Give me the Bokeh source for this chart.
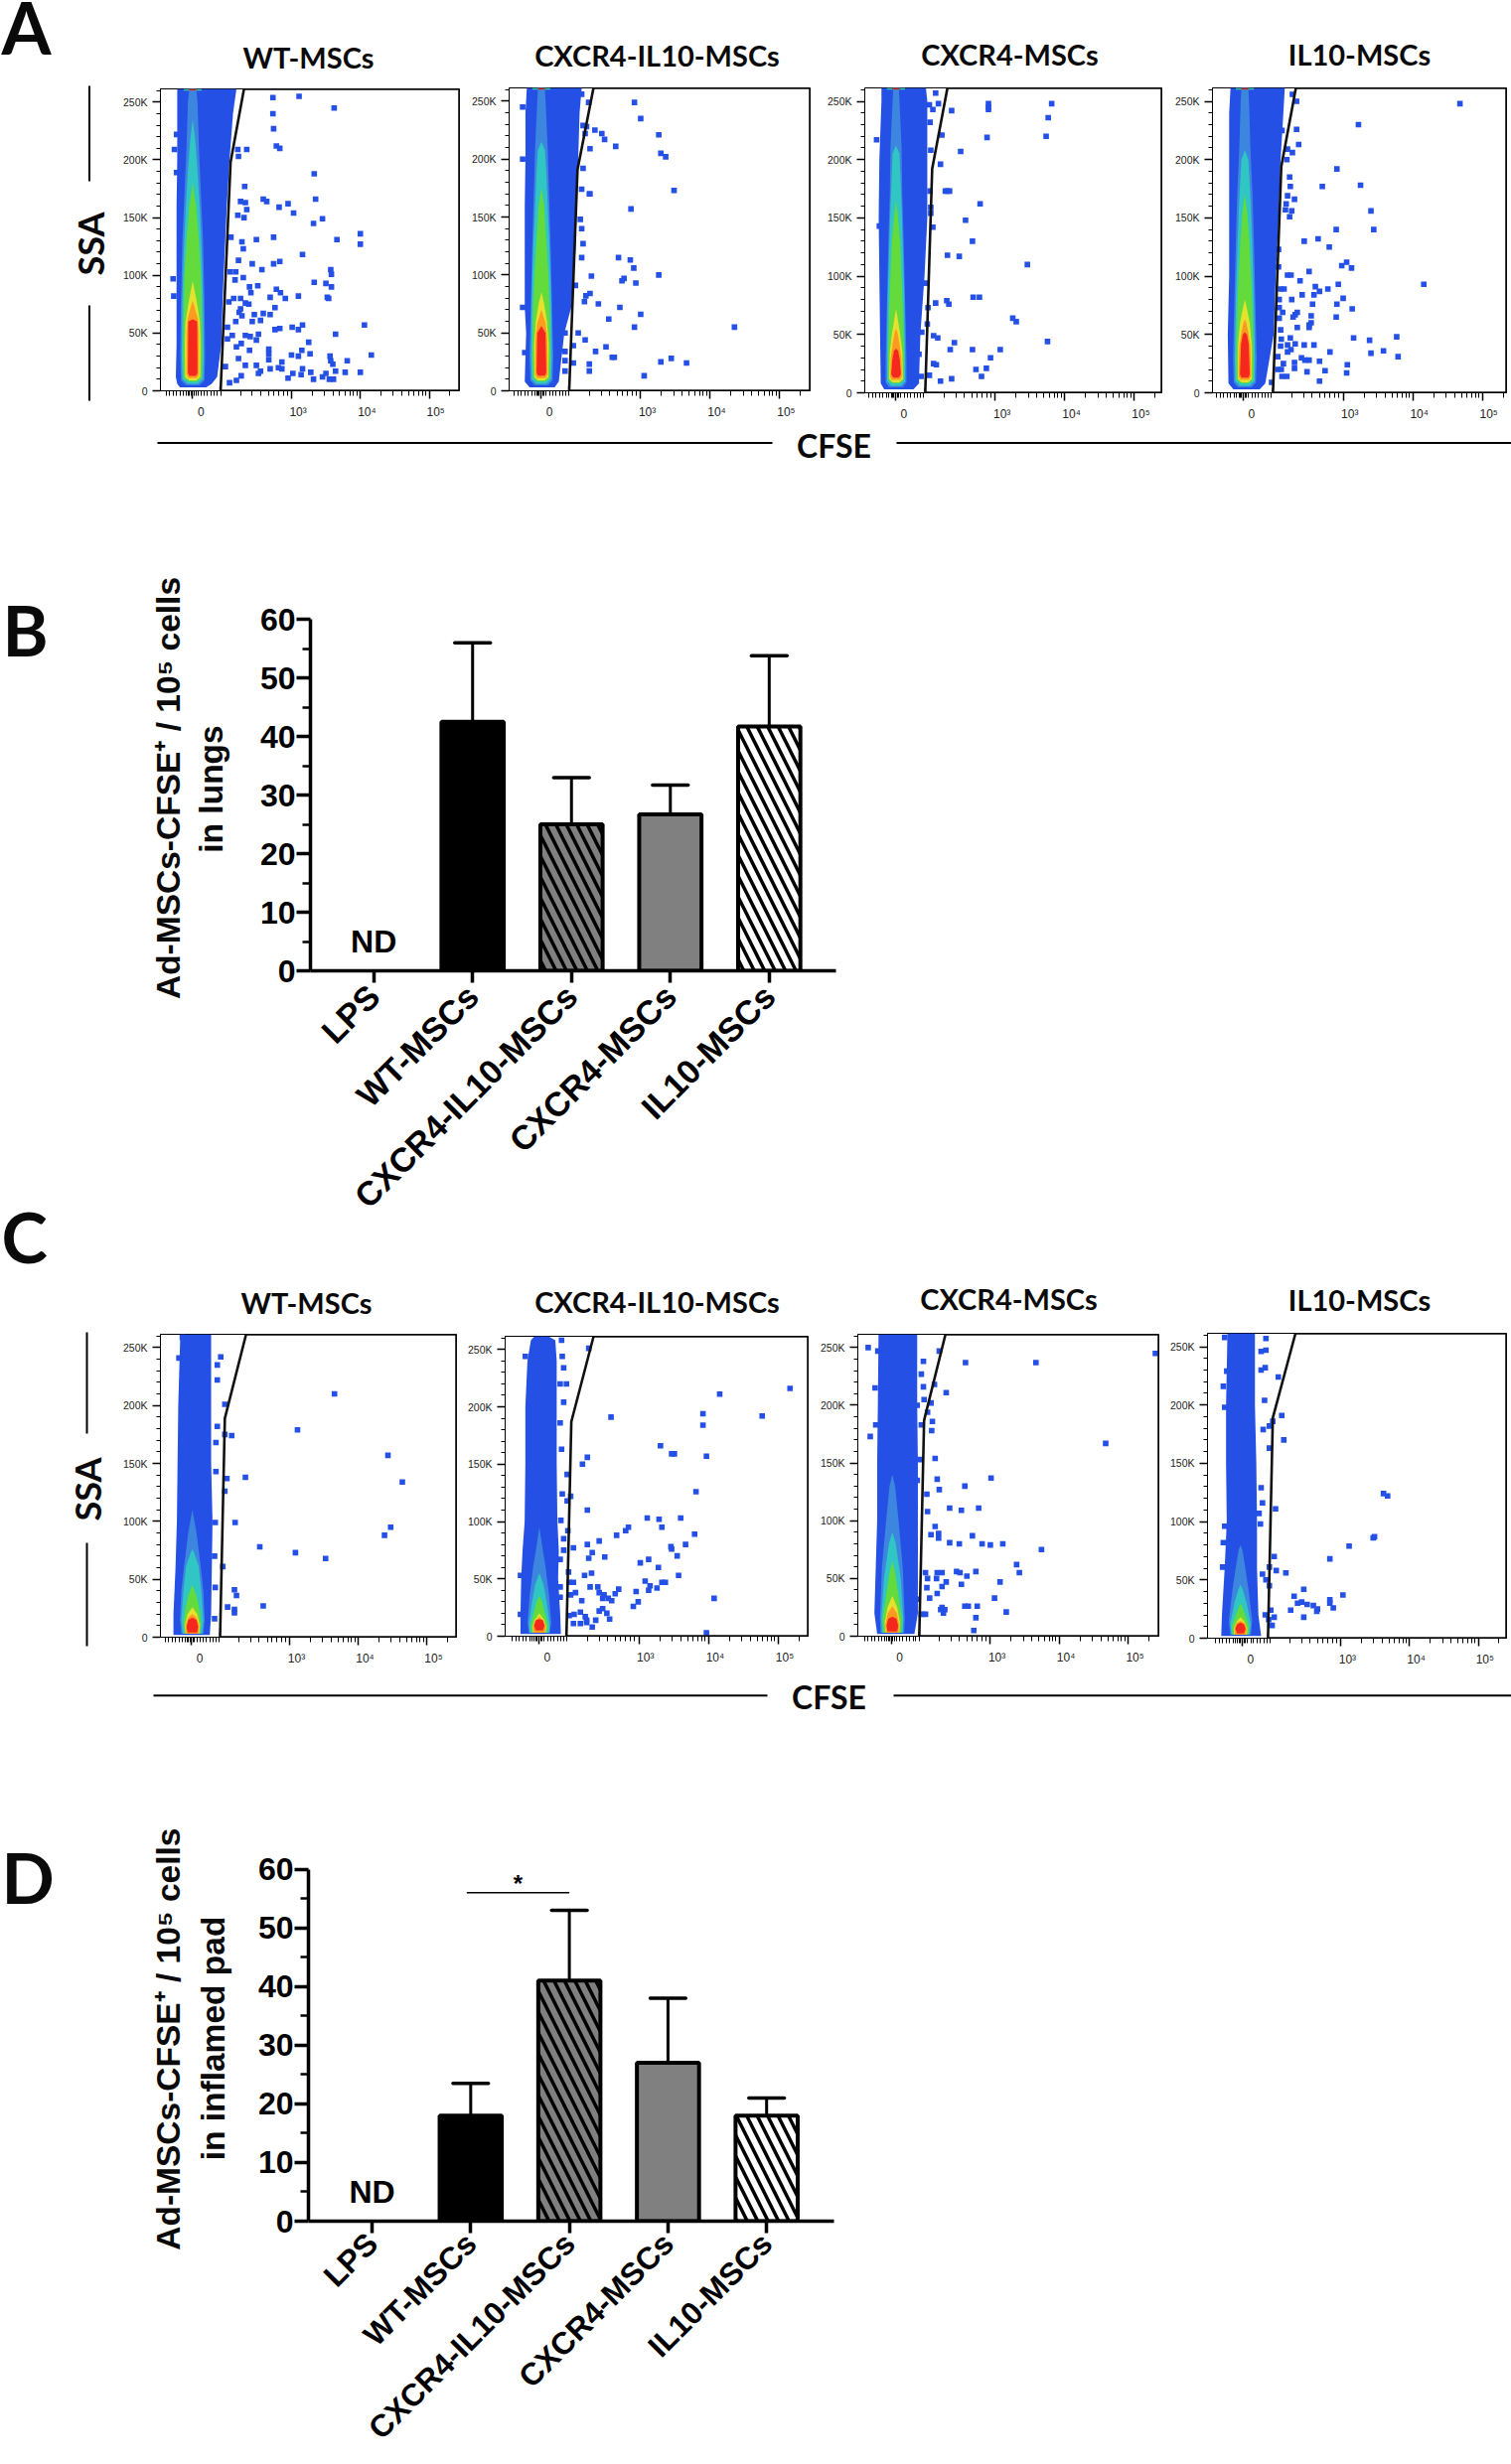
from math import pi
from bokeh.plotting import figure
from bokeh.models import Range1d, FixedTicker, Column, Row
from bokeh.core.properties import value
from bokeh.embed import file_html
from bokeh.resources import INLINE

# ---------------- flow panels: events outside the dense core (CFSE display decade, SSA in K)
A1_EVENTS = [(2.73,254),(3.11,255),(3.62,245),(2.73,240),(2.74,227),(2.78,212),(2.83,210),(3.33,188),(2.35,209),(2.23,203),(2.22,209),(2.32,177),(2.59,166),(2.64,164),(2.95,162),(2.82,159),(3.03,154),(3.35,166),(3.32,145),(3.45,149),(2.26,164),(2.33,163),(2.35,157),(2.22,152),(2.31,150),(2.12,133),(2.28,129),(2.49,131),(2.74,133),(3.66,131),(4.0,136),(4.0,127),(2.3,123),(3.16,118),(2.23,113),(2.43,110),(2.74,110),(2.83,112),(2.57,105),(3.57,105),(3.58,101),(2.11,103),(2.19,103),(2.3,98),(2.18,96),(2.51,91),(2.39,90),(3.33,94),(3.5,93),(3.58,90),(2.78,88),(2.84,85),(2.41,85),(2.69,81),(2.91,80),(3.1,82),(3.52,81),(3.54,80),(2.16,80),(2.26,80),(2.09,77),(2.33,76),(2.38,75),(2.76,72),(2.26,71),(2.24,68),(2.46,66),(2.59,67),(2.69,66),(2.28,65),(2.43,60),(2.55,61),(2.19,60),(2.07,55),(3.16,57),(4.06,57),(2.76,53),(2.83,54),(3.01,55),(3.1,53),(3.64,49),(2.33,48),(2.4,47),(2.52,49),(2.49,44),(2.14,48),(2.07,45),(2.27,41),(2.2,38),(3.25,42),(2.39,35),(2.67,36),(2.67,32),(3.15,35),(3.27,32),(3.0,31),(3.1,30),(4.16,31),(3.56,30),(2.67,27),(3.57,26),(3.81,26),(3.6,23),(2.86,25),(2.23,28),(2.33,22),(2.49,22),(2.04,21),(2.69,19),(2.81,20),(2.86,19),(3.16,19),(3.64,17),(3.78,16),(4.0,16),(2.52,15),(2.55,17),(3.28,16),(3.02,15),(3.14,14),(2.95,11),(3.5,15),(3.45,12),(2.27,13),(2.2,9),(2.1,7),(3.32,10),(3.55,10),(3.61,10),(1.3,209),(1.33,189),(1.28,97),(1.29,82),(1.33,222)]
A2_EVENTS = [(2.91,249),(3.0,235),(2.34,225),(2.44,222),(2.48,217),(3.26,221),(2.64,211),(2.27,209),(3.29,205),(3.36,202),(3.48,173),(2.86,157),(2.26,170),(2.27,170),(2.68,115),(2.85,113),(2.9,106),(3.26,100),(2.29,99),(2.76,97),(2.73,95),(2.93,93),(2.06,91),(2.27,84),(2.21,82),(2.19,77),(2.39,75),(2.7,72),(3.0,66),(2.54,62),(2.91,55),(4.35,55),(2.1,50),(2.2,44),(2.5,38),(2.35,34),(2.59,29),(2.62,29),(3.44,28),(3.29,25),(3.66,24),(2.03,24),(2.26,23),(2.26,17),(3.05,13),(2.15,256),(2.25,249),(2.17,229),(2.22,228),(2.2,222),(2.17,192),(2.15,174),(2.13,148),(2.15,140),(2.17,127),(2.15,115),(2.03,39),(1.91,50),(1.91,34),(1.91,26),(1.91,17),(1.3,245),(1.3,200),(1.3,72),(1.33,33)]
A3_EVENTS = [(2.14,257),(2.05,247),(2.18,248),(2.1,243),(2.37,242),(2.9,248),(2.9,245),(2.9,243),(3.81,248),(3.76,236),(3.73,220),(2.88,219),(2.23,221),(2.06,232),(2.5,207),(2.07,208),(2.21,196),(2.28,173),(2.31,173),(2.34,173),(2.78,162),(2.06,173),(2.07,159),(2.07,154),(2.57,148),(2.1,142),(2.67,130),(2.31,118),(2.48,117),(3.46,110),(2.0,94),(2.14,77),(2.3,79),(2.33,76),(2.68,82),(2.77,82),(2.03,73),(3.25,64),(3.3,61),(2.02,59),(2.11,49),(2.17,47),(3.75,44),(2.41,43),(2.35,37),(2.67,37),(3.07,37),(2.93,30),(2.11,25),(2.15,24),(2.72,20),(2.87,21),(2.8,14),(2.37,12),(2.21,10),(2.05,15),(1.93,14),(1.94,52),(1.9,33),(1.29,217),(1.33,143)]
A4_EVENTS = [(4.68,248),(3.22,230),(2.33,250),(2.27,256),(2.33,226),(2.12,225),(2.36,213),(2.2,209),(2.27,206),(2.19,200),(2.91,192),(2.23,185),(3.25,178),(2.7,177),(2.24,177),(2.2,169),(2.3,166),(2.18,162),(2.17,157),(2.26,156),(2.23,151),(3.4,156),(2.9,140),(3.44,140),(2.64,132),(2.44,130),(2.8,125),(2.07,123),(3.05,112),(2.98,109),(3.12,107),(2.51,104),(2.07,108),(2.2,101),(2.25,101),(2.38,96),(2.93,93),(4.16,93),(2.6,91),(2.78,89),(2.1,89),(2.15,89),(2.66,87),(2.41,84),(2.58,84),(3.0,81),(2.08,80),(2.26,80),(2.56,76),(2.91,76),(3.13,72),(2.08,73),(2.13,69),(2.34,69),(2.31,67),(2.54,66),(2.28,65),(2.9,65),(2.08,64),(2.54,60),(2.51,58),(2.51,56),(2.34,56),(2.1,54),(2.24,47),(3.15,47),(3.38,45),(3.77,48),(2.11,46),(2.31,42),(2.44,41),(2.58,41),(2.2,41),(2.1,40),(2.25,37),(2.2,35),(3.58,36),(2.81,35),(3.4,34),(3.79,31),(2.06,31),(2.4,30),(2.45,28),(2.51,28),(2.66,27),(2.3,26),(2.14,25),(3.06,24),(2.3,21),(2.06,20),(2.11,20),(2.48,18),(2.74,19),(3.05,17),(2.12,14),(2.19,14),(2.66,10),(1.97,9)]
C1_EVENTS = [(3.65,210),(3.11,179),(2.05,175),(2.15,174),(4.43,157),(4.64,134),(2.35,138),(2.08,137),(2.05,126),(4.47,95),(4.38,88),(2.2,99),(2.56,78),(3.08,73),(3.52,68),(2.02,61),(2.19,41),(2.22,36),(2.09,26),(2.19,24),(2.19,21),(2.61,27),(1.99,242),(1.43,259),(2.05,201),(1.94,182),(1.92,143),(1.91,99),(1.9,70),(1.91,43),(1.9,16),(1.92,168),(1.94,222),(1.94,235),(1.38,241)]
C2_EVENTS = [(2.28,251),(5.17,216),(4.16,211),(2.6,191),(3.92,194),(4.77,192),(3.92,184),(3.31,166),(3.47,159),(3.51,159),(3.97,157),(2.26,156),(2.19,150),(3.82,126),(2.02,122),(2.26,110),(3.12,103),(3.29,102),(3.6,103),(2.85,95),(2.81,92),(3.33,95),(2.68,88),(3.8,89),(2.43,83),(2.26,80),(3.46,78),(3.47,76),(3.67,80),(2.06,77),(2.33,73),(2.28,68),(2.51,69),(3.55,70),(3.14,67),(3.02,64),(3.28,60),(2.32,55),(2.22,53),(1.99,56),(3.57,53),(3.09,48),(3.33,47),(3.38,47),(2.06,47),(2.0,47),(3.16,44),(3.26,42),(3.14,40),(2.3,43),(2.41,43),(2.71,41),(2.96,39),(2.09,38),(2.43,38),(2.66,37),(2.02,36),(2.5,36),(2.48,33),(2.56,33),(2.61,31),(2.18,31),(4.08,33),(2.99,30),(2.92,26),(2.48,24),(2.43,22),(2.16,21),(2.54,20),(2.07,19),(2.0,18),(2.23,17),(2.58,15),(2.25,14),(2.38,14),(2.06,11),(2.16,11),(2.25,12),(2.33,8),(3.97,3),(1.89,258),(1.96,220),(1.87,220),(1.92,234),(1.9,244),(1.37,244),(1.92,204),(1.87,186),(1.89,163),(1.97,141),(1.9,124),(1.97,118),(1.88,101),(1.98,92),(1.92,85),(1.92,75),(1.87,67),(1.87,43),(1.87,34),(1.3,53),(1.3,19)]
C3_EVENTS = [(5.39,245),(3.66,237),(2.64,237),(2.26,247),(2.36,211),(4.67,167),(2.2,154),(3.01,137),(2.23,136),(2.63,130),(2.26,127),(2.41,111),(2.58,109),(2.83,111),(2.09,108),(2.2,95),(2.14,88),(2.25,89),(2.25,85),(2.74,87),(2.41,81),(2.55,80),(2.88,80),(3.0,79),(3.18,80),(3.74,75),(3.38,62),(3.42,55),(2.06,55),(2.23,55),(2.3,55),(2.51,56),(2.56,55),(2.79,56),(2.66,52),(2.09,50),(2.22,50),(2.36,47),(3.14,47),(2.58,45),(2.3,43),(2.08,42),(2.23,37),(2.12,33),(3.06,33),(2.3,25),(2.63,26),(2.68,26),(2.81,26),(2.28,23),(2.34,23),(2.32,20),(3.23,21),(2.0,19),(2.06,19),(2.79,16),(2.76,5),(2.19,218),(2.14,202),(2.16,186),(2.15,178),(2.09,194),(2.08,123),(1.23,250),(1.26,173),(1.33,215),(1.34,183),(1.37,247),(2.03,238),(2.0,227),(2.03,216),(2.04,205),(1.94,200),(2.0,183),(1.98,153),(1.94,135),(1.91,112),(1.91,75),(1.94,32)]
C4_EVENTS = [(1.91,257),(1.91,247),(1.84,246),(1.9,232),(1.84,230),(2.09,224),(1.29,216),(1.89,204),(2.14,191),(2.01,186),(1.96,182),(1.87,179),(2.17,170),(1.96,163),(1.84,129),(1.86,116),(2.05,111),(1.81,107),(1.83,98),(1.29,82),(2.03,70),(1.96,61),(2.06,58),(2.2,56),(1.86,55),(1.91,50),(1.96,45),(2.46,42),(3.03,37),(2.32,36),(2.37,30),(2.43,31),(2.51,29),(2.6,28),(2.84,33),(2.84,30),(2.89,26),(2.66,25),(2.65,23),(2.27,24),(1.98,24),(2.46,18),(2.03,18),(1.9,20),(2.0,11),(1.95,16),(2.84,68),(3.12,79),(3.47,86),(3.49,87),(3.62,124),(3.68,122),(1.31,258),(1.34,229),(1.31,198),(1.31,96),(1.28,61)]

# ---------------- dense cloud outline: (SSA, left, right)
A1_CLOUD = [(3,1.38,1.76),(6,1.34,1.84),(12,1.32,1.92),(40,1.33,1.98),(80,1.33,2.0),(120,1.33,2.03),(160,1.33,2.06),(200,1.34,2.1),(240,1.34,2.15),(261.5,1.34,2.2)]
A2_CLOUD = [(3,1.4,1.76),(8,1.33,1.82),(50,1.35,1.9),(72,1.33,2.0),(120,1.33,2.06),(160,1.33,2.08),(200,1.34,2.1),(240,1.34,2.12),(261.5,1.36,2.15)]
A3_CLOUD = [(3,1.4,1.82),(8,1.35,1.9),(50,1.34,1.92),(100,1.33,1.98),(150,1.32,2.02),(200,1.33,2.02),(250,1.36,2.02),(261.5,1.36,2.0)]
A4_CLOUD = [(3,1.42,1.8),(8,1.35,1.88),(50,1.34,2.0),(100,1.36,2.03),(150,1.36,2.07),(200,1.36,2.1),(240,1.36,2.14),(261.5,1.38,2.16)]
C1_CLOUD = [(2,1.3,1.83),(20,1.3,1.85),(60,1.33,1.86),(100,1.35,1.87),(150,1.36,1.85),(200,1.37,1.85),(261.5,1.4,1.85)]
C2_CLOUD = [(2,1.3,1.88),(20,1.3,1.87),(50,1.31,1.84),(75,1.33,1.85),(100,1.36,1.83),(150,1.37,1.82),(200,1.37,1.82),(240,1.4,1.82),(258,1.45,1.8),(261.5,1.5,1.7)]
C3_CLOUD = [(2,1.36,1.9),(20,1.32,1.95),(60,1.34,1.95),(100,1.36,1.95),(150,1.36,1.95),(200,1.37,1.94),(261.5,1.38,1.94)]
C4_CLOUD = [(2,1.26,1.84),(20,1.27,1.8),(60,1.31,1.78),(100,1.34,1.78),(150,1.33,1.77),(200,1.33,1.75),(261.5,1.35,1.75)]

# ---------------- density contours: (SSA, half width), outermost to innermost
A1_LIGHT  = [(5,.10),(9,.17),(30,.18),(80,.17),(130,.15),(170,.12),(210,.09),(250,.07),(261.5,.05)]
A1_TEAL   = [(6,.07),(10,.15),(30,.16),(80,.15),(120,.13),(160,.10),(190,.07),(215,.04),(235,0)]
A1_GREEN  = [(8,.05),(11,.13),(30,.14),(70,.13),(100,.12),(130,.09),(160,.05),(180,0)]
A1_YELLOW = [(9,.05),(12,.11),(40,.115),(60,.105),(80,.05),(95,0)]
A1_ORANGE = [(11,.06),(14,.09),(50,.09),(62,.075),(72,.03),(78,0)]
A1_RED    = [(13,.05),(16,.07),(60,.065),(62,0)]
A2_LIGHT  = [(5,.10),(9,.16),(30,.17),(80,.15),(130,.13),(170,.11),(210,.09),(250,.06),(261.5,.05)]
A2_TEAL   = [(6,.07),(10,.14),(30,.15),(80,.14),(120,.12),(160,.09),(190,.07),(208,.05),(215,0)]
A2_GREEN  = [(8,.05),(11,.12),(30,.13),(70,.12),(100,.10),(130,.07),(160,.04),(175,0)]
A2_YELLOW = [(9,.05),(12,.10),(40,.105),(60,.08),(75,.04),(85,0)]
A2_ORANGE = [(11,.06),(14,.09),(45,.085),(58,.06),(66,.02),(70,0)]
A2_RED    = [(13,.05),(16,.07),(50,.06),(56,0)]
A3_LIGHT  = [(5,.10),(9,.15),(30,.15),(80,.13),(130,.11),(170,.09),(210,.08),(250,.05),(261.5,.04)]
A3_TEAL   = [(6,.07),(10,.13),(30,.13),(80,.12),(120,.10),(160,.08),(190,.06),(205,.05),(212,0)]
A3_GREEN  = [(8,.05),(11,.11),(30,.115),(70,.10),(100,.08),(130,.06),(150,.03),(165,0)]
A3_YELLOW = [(9,.05),(12,.10),(35,.09),(50,.06),(65,.02),(72,0)]
A3_ORANGE = [(11,.06),(14,.085),(30,.075),(42,.05),(52,.02),(55,0)]
A3_RED    = [(13,.04),(16,.07),(28,.055),(36,.03),(38,0)]
A4_LIGHT  = [(5,.10),(9,.16),(30,.17),(80,.15),(130,.13),(170,.11),(210,.08),(250,.06),(261.5,.05)]
A4_TEAL   = [(6,.07),(10,.14),(30,.145),(80,.13),(120,.11),(160,.085),(190,.06),(200,.05),(208,0)]
A4_GREEN  = [(8,.05),(11,.12),(30,.125),(70,.11),(100,.09),(130,.065),(155,.035),(170,0)]
A4_YELLOW = [(9,.05),(12,.10),(40,.10),(60,.07),(72,.03),(80,0)]
A4_ORANGE = [(11,.06),(14,.09),(40,.08),(52,.05),(60,.02),(63,0)]
A4_RED    = [(13,.05),(16,.07),(42,.055),(50,.03),(52,0)]
C1_LIGHT  = [(3,.16),(15,.18),(40,.16),(62,.12),(90,.06),(110,0)]
C1_TEAL   = [(3,.14),(15,.16),(40,.13),(62,.09),(72,.03),(76,0)]
C1_GREEN  = [(3,.11),(12,.13),(25,.10),(36,.06),(45,0)]
C1_YELLOW = [(3,.10),(10,.11),(20,.07),(26,0)]
C1_ORANGE = [(3,.09),(10,.10),(17,.06),(20,0)]
C1_RED    = [(4,.07),(9,.085),(15,.06),(17,0)]
C2_LIGHT  = [(3,.15),(12,.17),(35,.14),(60,.09),(75,.05),(95,0)]
C2_TEAL   = [(3,.14),(10,.15),(28,.11),(45,.06),(55,0)]
C2_GREEN  = [(3,.11),(9,.125),(18,.09),(30,.04),(35,0)]
C2_YELLOW = [(3,.09),(8,.10),(14,.07),(20,0)]
C2_ORANGE = [(3,.08),(8,.09),(13,.065),(17,0)]
C2_RED    = [(5,.05),(9,.075),(14,.05),(15,0)]
C3_LIGHT  = [(3,.17),(15,.18),(60,.15),(100,.09),(130,.04),(140,0)]
C3_TEAL   = [(3,.15),(15,.16),(50,.12),(80,.05),(90,0)]
C3_GREEN  = [(3,.13),(15,.14),(35,.09),(55,.04),(65,0)]
C3_YELLOW = [(3,.10),(12,.11),(25,.07),(35,0)]
C3_ORANGE = [(3,.09),(10,.10),(20,.065),(26,0)]
C3_RED    = [(4,.07),(9,.085),(15,.06),(17,0)]
C4_LIGHT  = [(3,.15),(15,.17),(40,.12),(60,.07),(75,.03),(80,0)]
C4_TEAL   = [(3,.13),(12,.15),(30,.09),(42,.03),(46,0)]
C4_GREEN  = [(3,.11),(10,.125),(20,.07),(30,0)]
C4_YELLOW = [(3,.09),(8,.10),(14,.06),(18,0)]
C4_ORANGE = [(3,.08),(8,.09),(13,.06),(15,0)]
C4_RED    = [(4,.05),(8,.075),(12,.05),(13.5,0)]

# ---------------- gate: CFSE at bottom, CFSE at kink, SSA at kink, CFSE at top
A1_GATE = (1.97,2.115,198,2.31)
A2_GATE = (1.97,2.09,191,2.32)
A3_GATE = (1.99,2.09,192,2.31)
A4_GATE = (1.99,2.11,194,2.32)
C1_GATE = (1.98,2.05,189,2.36)
C2_GATE = (1.96,2.03,187,2.35)
C3_GATE = (1.97,2.04,187,2.35)
C4_GATE = (1.94,2.01,189,2.34)

SSA_TICKS = [0,50,100,150,200,250]
SSA_LABELS = ["0","50K","100K","150K","200K","250K"]
SSA_MINOR = [10,20,30,40,60,70,80,90,110,120,130,140,160,170,180,190,210,220,230,240,260]
CFSE_TICKS = [1.565,3,4,5]
CFSE_MINOR = [1.18,1.97,1.23,1.28,1.33,1.38,1.43,1.47,1.5,1.52,1.54,1.59,1.61,1.64,1.69,1.73,1.78,1.83,1.88,1.92,
              2.26,2.43,2.55,2.67,2.74,2.81,2.88,2.94,3.3,3.48,3.6,3.7,3.78,3.85,3.9,3.95,
              4.3,4.48,4.6,4.7,4.78,4.85,4.9,4.95,5.3]
NB="\u00a0"
CFSE_LABELS = [NB*5+"0",NB*4+"10³",NB*4+"10⁴",NB*4+"10⁵"]
PANEL_TITLES = ["WT-MSCs","CXCR4-IL10-MSCs","CXCR4-MSCs","IL10-MSCs"]

# ---------------- bar charts
BAR_GROUPS = ["LPS","WT-MSCs","CXCR4-IL10-MSCs","CXCR4-MSCs","IL10-MSCs"]
LUNG_MEAN = [0,42.5,25,26.7,41.7]
LUNG_UPPER = [0,56,33,31.7,53.8]
PAD_MEAN = [0,18,41,27,18]
PAD_UPPER = [0,23.5,53,38,21]
BAR_FILL = [None,"black","#808080","#808080","white"]
BAR_HATCH = [None,None,"left_diagonal_line",None,"left_diagonal_line"]

BLUE="#2450e6"; BAND_COLORS=["#3d86e0","#2fc6c4","#63db3c","#e6e02e","#ff9a20","#f4281c"]
ARIAL="Liberation Sans"; LATO="Lato"


def strip(x0,x1,y0,y1):
    p=figure(width=x1-x0,height=y1-y0,x_range=Range1d(x0,x1),y_range=Range1d(y1,y0),
             x_axis_type=None,y_axis_type=None,toolbar_location=None,output_backend="svg",
             min_border_left=0,min_border_right=0,min_border_top=0,min_border_bottom=0,
             outline_line_color=None,frame_align=False)
    return p

def txt(p,x,y,s,size,font=LATO,angle=0,align="center"):
    p.text(x=[x],y=[y],text=[s],text_font=value(font),text_font_style="bold",text_font_size=f"{size}px",
           text_align=align,text_baseline="middle",angle=angle,text_color="#0a0a0a")

def seg(p,x0,y0,x1,y1,w=2):
    p.segment(x0=[x0],y0=[y0],x1=[x1],y1=[y1],line_color="black",line_width=w)

def flow(events,cloud,bands,gate,center,xr,fig_w,fig_h,left,right,top,bottom,cap=False):
    p=figure(width=fig_w,height=fig_h,x_range=Range1d(*xr),y_range=Range1d(0,261.5),
             toolbar_location=None,output_backend="svg",frame_align=False,
             min_border_left=left,min_border_right=right,min_border_top=top,min_border_bottom=bottom,
             outline_line_color="black",outline_line_width=1)
    p.grid.visible=False
    p.harea(x1=[c[1] for c in cloud],x2=[c[2] for c in cloud],y=[c[0] for c in cloud],fill_color=BLUE)
    for band,col in zip(bands,BAND_COLORS):
        p.harea(x1=[center-b[1] for b in band],x2=[center+b[1] for b in band],y=[b[0] for b in band],fill_color=col)
    if cap:
        p.harea(x1=[center-.13,center-.13],x2=[center+.13,center+.13],y=[260,261.5],fill_color="#35c9a8")
        p.harea(x1=[center-.05,center-.05],x2=[center+.05,center+.05],y=[260,261.5],fill_color="#d0222c")
    p.scatter(x=[e[0] for e in events],y=[e[1] for e in events],marker="square",size=5.6,
              fill_color=BLUE,line_color=None)
    g0,g1,ky,g2=gate
    p.line(x=[g0,g1,g2,xr[1],xr[1],g0,g0],y=[0,ky,261.5,261.5,0,0,ky*0.02],line_color="#111111",line_width=2.6)
    ya=p.yaxis[0]
    ya.ticker=FixedTicker(ticks=SSA_TICKS,minor_ticks=SSA_MINOR)
    ya.major_label_overrides=dict(zip(SSA_TICKS,SSA_LABELS))
    ya.major_label_text_font=ARIAL; ya.major_label_text_font_size="10.5px"; ya.major_label_text_color="#222222"
    ya.major_tick_out=8; ya.major_tick_in=0; ya.minor_tick_out=4; ya.minor_tick_in=0
    ya.major_tick_line_width=1.5; ya.minor_tick_line_width=1; ya.axis_line_width=1; ya.major_label_standoff=5
    xa=p.xaxis[0]
    xa.ticker=FixedTicker(ticks=CFSE_TICKS,minor_ticks=CFSE_MINOR)
    xa.major_label_overrides=dict(zip(CFSE_TICKS,CFSE_LABELS))
    xa.major_label_text_font=ARIAL; xa.major_label_text_font_size="12px"; xa.major_label_text_color="#222222"
    xa.major_tick_out=8; xa.major_tick_in=0; xa.minor_tick_out=5; xa.minor_tick_in=0
    xa.major_tick_line_width=1.5; xa.minor_tick_line_width=1; xa.major_label_standoff=6
    return p

def bars(means,uppers,xr,fig_w,fig_h,left,right,top,bottom,yr,label_px=34,standoff=8):
    p=figure(width=fig_w,height=fig_h,x_range=Range1d(*xr),y_range=Range1d(0,yr),
             toolbar_location=None,output_backend="svg",frame_align=False,
             min_border_left=left,min_border_right=right,min_border_top=top,min_border_bottom=bottom,
             outline_line_color=None)
    p.grid.visible=False
    idx=list(range(len(BAR_GROUPS)))
    for i in idx[1:]:
        p.segment(x0=[i],y0=[means[i]],x1=[i],y1=[uppers[i]],line_color="black",line_width=3)
        p.segment(x0=[i-.18],y0=[uppers[i]],x1=[i+.18],y1=[uppers[i]],line_color="black",line_width=3.5,line_cap="round")
        kw=dict(hatch_pattern=BAR_HATCH[i],hatch_color="black",hatch_scale=21,hatch_weight=3.5) if BAR_HATCH[i] else {}
        p.vbar(x=[i],top=[means[i]],bottom=[0],width=.63,fill_color=BAR_FILL[i],line_color="black",line_width=4,**kw)
    p.text(x=[0],y=[5.0],text=["ND"],text_font=value(ARIAL),text_font_style="bold",text_font_size="32px",
           text_align="center",text_baseline="middle",text_color="black")
    ya=p.yaxis[0]
    ya.bounds=(0,60)
    ya.ticker=FixedTicker(ticks=[0,10,20,30,40,50,60],minor_ticks=[5,15,25,35,45,55])
    ya.major_label_text_font=ARIAL; ya.major_label_text_font_style="bold"; ya.major_label_text_font_size="32px"
    ya.major_label_text_color="black"; ya.axis_line_width=3.5; ya.major_tick_line_width=3.5; ya.minor_tick_line_width=2.5
    ya.major_tick_out=14; ya.major_tick_in=0; ya.minor_tick_out=8; ya.minor_tick_in=0; ya.major_label_standoff=1
    xa=p.xaxis[0]
    xa.ticker=FixedTicker(ticks=idx,minor_ticks=[])
    xa.major_label_overrides=dict(zip(idx,BAR_GROUPS))
    xa.major_label_orientation=pi/4
    xa.major_label_text_font=ARIAL; xa.major_label_text_font_style="bold"; xa.major_label_text_font_size=f"{label_px}px"
    xa.major_label_text_color="black"; xa.axis_line_width=3.5; xa.major_tick_line_width=3.5
    xa.major_tick_out=12; xa.major_tick_in=0; xa.minor_tick_out=0; xa.minor_tick_in=0; xa.major_label_standoff=standoff
    return p

# ---------------- row A
top_a=strip(0,1521,0,80)
txt(top_a,1,26,"A",72,align="left")
for cx,cy,t,s in zip([310,661,1016,1368],[57,55,54,54],PANEL_TITLES,[29]*4):
    txt(top_a,cx,cy,t,s)
side_a=strip(0,120,80,430)
seg(side_a,89.5,86,89.5,182); seg(side_a,89.5,307,89.5,403)
txt(side_a,90,245,"SSA",36,angle=pi/2)
a1=flow(A1_EVENTS,A1_CLOUD,[A1_LIGHT,A1_TEAL,A1_GREEN,A1_YELLOW,A1_ORANGE,A1_RED],A1_GATE,1.565,(1.096,5.44),346,350,39,4,9,37,True)
a2=flow(A2_EVENTS,A2_CLOUD,[A2_LIGHT,A2_TEAL,A2_GREEN,A2_YELLOW,A2_ORANGE,A2_RED],A2_GATE,1.57,(1.105,5.44),354,350,46,5,8,37,True)
a3=flow(A3_EVENTS,A3_CLOUD,[A3_LIGHT,A3_TEAL,A3_GREEN,A3_YELLOW,A3_ORANGE,A3_RED],A3_GATE,1.57,(1.12,5.395),353,350,50,4,8,35,True)
a4=flow(A4_EVENTS,A4_CLOUD,[A4_LIGHT,A4_TEAL,A4_GREEN,A4_YELLOW,A4_ORANGE,A4_RED],A4_GATE,1.586,(1.12,5.35),348,350,47,5,8,35,True)
cfse_a=strip(0,1521,430,575)
seg(cfse_a,158,445.5,777,445.5); seg(cfse_a,902,445.5,1521,445.5)
txt(cfse_a,839,448,"CFSE",32)

# ---------------- row B
side_b=strip(0,258,575,1280)
txt(side_b,2,633,"B",70,align="left")
txt(side_b,1,1244,"C",70,align="left")
txt(side_b,169,793,"Ad-MSCs-CFSE⁺ / 10⁵ cells",33.5,ARIAL,pi/2)
txt(side_b,212,794,"in lungs",33.5,ARIAL,pi/2)
b=bars(LUNG_MEAN,LUNG_UPPER,(-.64,4.675),620,705,54,37,36,303,62.06)

# ---------------- row C
top_c=strip(0,1521,1280,1335)
for cx,cy,t in zip([308,661,1015,1368],[1311,1310,1307,1308],PANEL_TITLES):
    txt(top_c,cx,cy,t,29)
side_c=strip(0,120,1335,1680)
seg(side_c,87,1341,87,1443); seg(side_c,87,1553,87,1657)
txt(side_c,87.5,1499,"SSA",36,angle=pi/2)
c1=flow(C1_EVENTS,C1_CLOUD,[C1_LIGHT,C1_TEAL,C1_GREEN,C1_YELLOW,C1_ORANGE,C1_RED],C1_GATE,1.576,(1.11,5.43),342,345,37,3,8,32)
c2=flow(C2_EVENTS,C2_CLOUD,[C2_LIGHT,C2_TEAL,C2_GREEN,C2_YELLOW,C2_ORANGE,C2_RED],C2_GATE,1.571,(1.08,5.43),355,345,46,4,10,33)
c3=flow(C3_EVENTS,C3_CLOUD,[C3_LIGHT,C3_TEAL,C3_GREEN,C3_YELLOW,C3_ORANGE,C3_RED],C3_GATE,1.58,(1.08,5.44),353,345,46,4,8,33)
c4=flow(C4_EVENTS,C4_CLOUD,[C4_LIGHT,C4_TEAL,C4_GREEN,C4_YELLOW,C4_ORANGE,C4_RED],C4_GATE,1.54,(1.06,5.41),351,345,45,5,7,31)
cfse_c=strip(0,1521,1680,1760)
seg(cfse_c,154,1706.7,772,1706.7); seg(cfse_c,899,1706.7,1521,1706.7)
txt(cfse_c,834,1708,"CFSE",32)

# ---------------- row D
side_d=strip(0,256,1760,2481)
txt(side_d,1,1889,"D",70,align="left")
txt(side_d,169,2048,"Ad-MSCs-CFSE⁺ / 10⁵  cells",33.5,ARIAL,pi/2)
txt(side_d,214,2052,"in inflamed pad",33.5,ARIAL,pi/2)
d=bars(PAD_MEAN,PAD_UPPER,(-.645,4.683),620,721,54,37,109,245,62.12,label_px=31.5,standoff=5)
d.segment(x0=[.96],y0=[56],x1=[2.0],y1=[56],line_color="black",line_width=1.5)
d.text(x=[1.48],y=[57.6],text=["*"],text_font=value(ARIAL),text_font_style="bold",text_font_size="24px",
       text_align="center",text_baseline="middle",text_color="black")

page=Column(children=[
    top_a,
    Row(children=[side_a,a1,a2,a3,a4],spacing=0),
    cfse_a,
    Row(children=[side_b,b],spacing=0),
    top_c,
    Row(children=[side_c,c1,c2,c3,c4],spacing=0),
    cfse_c,
    Row(children=[side_d,d],spacing=0),
],spacing=0)

open("out.html","w").write(file_html(page,INLINE))
